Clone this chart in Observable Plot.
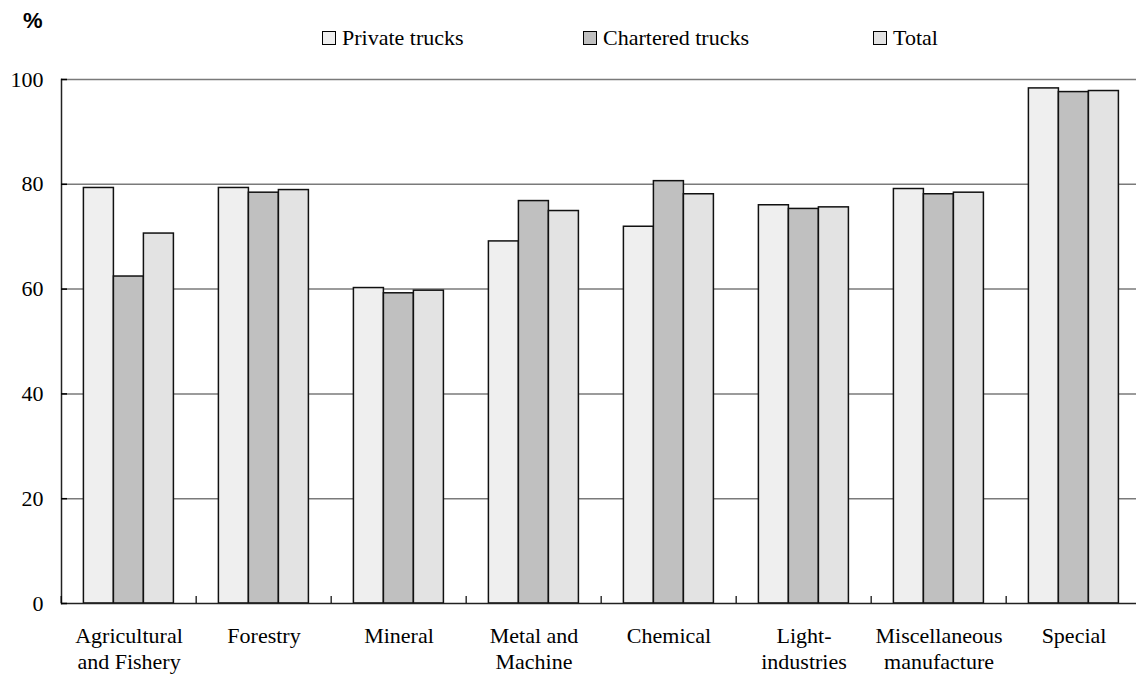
<!DOCTYPE html>
<html>
<head>
<meta charset="utf-8">
<script src="https://cdn.jsdelivr.net/npm/d3@7"></script>
<script src="https://cdn.jsdelivr.net/npm/@observablehq/plot@0.6"></script>
<style>
  html, body { margin: 0; padding: 0; background: #fff; overflow: hidden; }
  #wrap { position: relative; width: 1144px; }
  #header { position: relative; height: 60px; }
  #pct { position: absolute; left: 23px; top: 10px; font: bold 22px "Liberation Sans", Arial, sans-serif; line-height: 22px; }
  .item { position: absolute; top: 27px; font: 22px "Liberation Serif", "Times New Roman", serif; line-height: 22px; white-space: nowrap; }
  .sw { position: absolute; width: 12px; height: 12px; border: 1.3px solid #000; top: 4px; left: 0; }
  .lbl { position: absolute; left: 20px; top: 0; }
</style>
</head>
<body>
<div id="wrap">
  <div id="header"><div id="pct">%</div></div>
  <div id="chart"></div>
</div>
<script>
const categories = ["Agricultural\nand Fishery", "Forestry", "Mineral", "Metal and\nMachine", "Chemical", "Light-\nindustries", "Miscellaneous\nmanufacture", "Special"];
const series = ["Private trucks", "Chartered trucks", "Total"];
const privateTrucks   = [79.3, 79.3, 60.2, 69.1, 71.9, 76.0, 79.1, 98.3];
const charteredTrucks = [62.4, 78.4, 59.2, 76.8, 80.6, 75.3, 78.1, 97.6];
const totalTrucks     = [70.6, 78.9, 59.7, 74.9, 78.1, 75.6, 78.4, 97.8];
const colors = ["#efefef", "#c0c0c0", "#e3e3e3"];
const yTicks = [0, 20, 40, 60, 80, 100];
const legendLeft = [322, 583, 873];

const valuesBySeries = [privateTrucks, charteredTrucks, totalTrucks];
const data = [];
categories.forEach((c, i) => series.forEach((s, j) => data.push({category: c, series: s, value: valuesBySeries[j][i]})));

// legend
const header = document.getElementById("header");
series.forEach((s, j) => {
  const it = document.createElement("div");
  it.className = "item";
  it.style.left = legendLeft[j] + "px";
  it.innerHTML = `<span class="sw" style="background:${colors[j]}"></span><span class="lbl">${s}</span>`;
  header.appendChild(it);
});

const width = 1144, marginLeft = 58.6, marginRight = 0;
const halfStep = (width - marginLeft - marginRight) / categories.length / 2;
const font = '"Liberation Serif", "Times New Roman", serif';

const plot = Plot.plot({
  width, height: 615,
  marginLeft, marginRight, marginTop: 19, marginBottom: 72,
  style: {fontFamily: font, fontSize: "22px", color: "#000", background: "#fff"},
  fx: {domain: categories, padding: 0, axis: null, label: null},
  x: {type: "band", domain: series, paddingInner: 0, paddingOuter: 0.744, axis: null},
  y: {domain: [0, 100], axis: null, label: null},
  color: {domain: series, range: colors},
  marks: [
    Plot.ruleY(yTicks.filter(d => d > 0), {stroke: "#7a7a7a", strokeWidth: 1.5}),
    Plot.barY(data, {fx: "category", x: "series", y: "value", fill: "series", stroke: "#111", strokeWidth: 1.5}),
    Plot.ruleY([0], {stroke: "#222", strokeWidth: 1.5}),
    Plot.frame({anchor: "left", facetAnchor: "left", stroke: "#222", strokeWidth: 1.5}),
    Plot.axisY({anchor: "left", ticks: yTicks, tickSize: 0, tickPadding: 18, fontSize: 22, label: null}),
    Plot.axisY({anchor: "left", ticks: yTicks, tickSize: 6, dx: 6, tickFormat: () => "", strokeWidth: 1.5, label: null}),
    Plot.axisFx({anchor: "bottom", tickSize: 7, dy: -7, dx: -halfStep, tickFormat: () => "", strokeWidth: 1.2, label: null}),
    Plot.axisFx({anchor: "bottom", tickSize: 0, tickPadding: 22, lineHeight: 1.15, fontSize: 22, label: null})
  ]
});
document.getElementById("chart").appendChild(plot);
</script>
</body>
</html>
